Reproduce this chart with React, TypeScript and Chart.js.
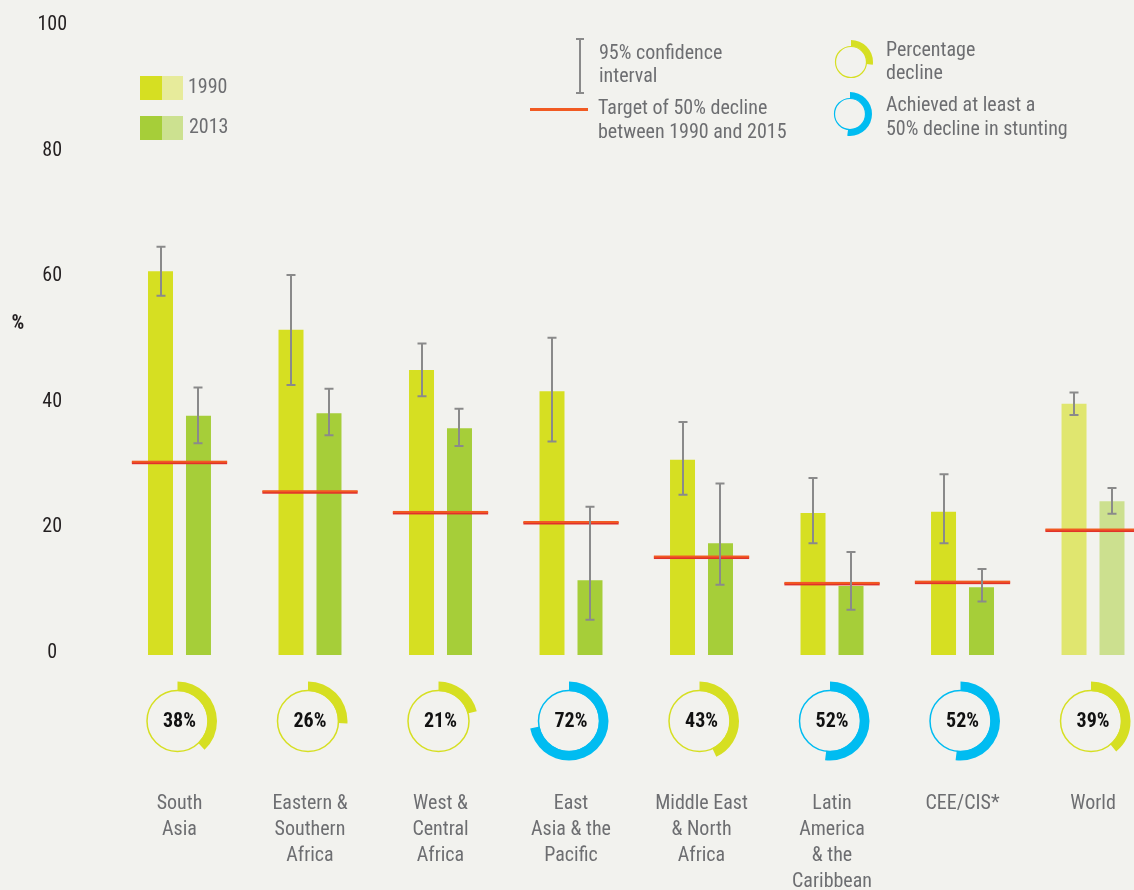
import React, { useEffect, useRef } from "react";
import { Chart, registerables } from "chart.js";

Chart.register(...registerables);

// ---------- data ----------
const categories: string[][] = [
  ["South", "Asia"],
  ["Eastern &", "Southern", "Africa"],
  ["West &", "Central", "Africa"],
  ["East", "Asia & the", "Pacific"],
  ["Middle East", "& North", "Africa"],
  ["Latin", "America", "& the", "Caribbean"],
  ["CEE/CIS*"],
  ["World"],
];
const values1990 = [61.1, 51.8, 45.4, 42.0, 31.1, 22.6, 22.8, 40.0];
const values2013 = [38.1, 38.5, 36.1, 11.9, 17.8, 11.0, 10.8, 24.5];
const ciLow1990 = [57.2, 43.0, 41.2, 34.0, 25.5, 17.8, 17.8, 38.2];
const ciHigh1990 = [65.0, 60.5, 49.6, 50.5, 37.1, 28.2, 28.8, 41.8];
const ciLow2013 = [33.7, 35.0, 33.3, 5.6, 11.2, 7.2, 8.5, 22.5];
const ciHigh2013 = [42.6, 42.4, 39.2, 23.6, 27.3, 16.4, 13.7, 26.6];
const targets = [30.7, 26.0, 22.7, 21.1, 15.6, 11.4, 11.6, 19.9];
const declines = [38, 26, 21, 72, 43, 52, 52, 39];
const yTicks = [0, 20, 40, 60, 80, 100];

// ---------- style ----------
const BG = "#f2f2ee";
const C1990 = "#d6df22";
const C2013 = "#a6ce39";
const C1990_W = "#e0e66f";
const C2013_W = "#cce08f";
const C1990_L = "#e7eb9b";
const C2013_L = "#cce190";
const BLUE = "#00bcf1";
const ORANGE = "#f15a22";
const RED = "#e0312a";
const ERR = "#8a8a8a";
const TEXT = "#6d6e71";
const FONT = "'Roboto Condensed', 'Open Sans Condensed', Roboto, sans-serif";

const X_MIN = -0.839;
const X_MAX = 7.314;

function donut(ctx: CanvasRenderingContext2D, cx: number, cy: number, pct: number, color: string, rThin: number, rIn: number, rOut: number, thinW: number) {
  ctx.save();
  ctx.strokeStyle = color;
  ctx.lineWidth = thinW;
  ctx.beginPath();
  ctx.arc(cx, cy, rThin, 0, Math.PI * 2);
  ctx.stroke();
  const s = -Math.PI / 2;
  const e = s + (Math.PI * 2 * pct) / 100;
  ctx.fillStyle = color;
  ctx.beginPath();
  ctx.arc(cx, cy, rOut, s, e);
  ctx.arc(cx, cy, rIn, e, s, true);
  ctx.closePath();
  ctx.fill();
  ctx.restore();
}

const overlay = {
  id: "overlay",
  afterDatasetsDraw(chart: any) {
    const ctx: CanvasRenderingContext2D = chart.ctx;
    const x = chart.scales.x;
    const y = chart.scales.y;
    const step = x.getPixelForValue(1) - x.getPixelForValue(0);
    ctx.save();
    // target lines
    targets.forEach((t, i) => {
      const cx = x.getPixelForValue(i);
      const half = step * 0.365;
      const py = y.getPixelForValue(t);
      ctx.fillStyle = RED;
      ctx.fillRect(cx - half, py - 0.5, half * 2, 2.5);
      ctx.fillStyle = ORANGE;
      ctx.fillRect(cx - half, py - 1.5, half * 2, 2);
    });
    // error bars
    const lows = [ciLow1990, ciLow2013];
    const highs = [ciHigh1990, ciHigh2013];
    [0, 1].forEach((d) => {
      const meta = chart.getDatasetMeta(d);
      meta.data.forEach((bar: any, i: number) => {
        const bx = Math.round(bar.x);
        const yl = y.getPixelForValue(lows[d][i]);
        const yh = y.getPixelForValue(highs[d][i]);
        ctx.strokeStyle = ERR;
        ctx.lineWidth = 2;
        ctx.beginPath();
        ctx.moveTo(bx, yh);
        ctx.lineTo(bx, yl);
        ctx.moveTo(bx - 4.5, yh);
        ctx.lineTo(bx + 4.5, yh);
        ctx.moveTo(bx - 4.5, yl);
        ctx.lineTo(bx + 4.5, yl);
        ctx.stroke();
      });
    });
    // donuts
    declines.forEach((p, i) => {
      const cx = x.getPixelForValue(i) - 2;
      const cy = 721;
      const col = p >= 50 ? BLUE : C1990;
      donut(ctx, cx, cy, p, col, 30.5, 30, 39.5, 1.5);
      ctx.fillStyle = "#111";
      ctx.font = `bold 20px ${FONT}`;
      ctx.textAlign = "center";
      ctx.textBaseline = "middle";
      ctx.fillText(`${p}%`, cx + 2, cy + 1);
    });
    ctx.restore();
  },
  afterDraw(chart: any) {
    const ctx: CanvasRenderingContext2D = chart.ctx;
    ctx.save();
    // % label
    ctx.fillStyle = "#231f20";
    ctx.font = `bold 20px ${FONT}`;
    ctx.textAlign = "center";
    ctx.textBaseline = "middle";
    ctx.fillText("%", 18, 324);
    // year swatches
    ctx.fillStyle = C1990;
    ctx.fillRect(140, 76, 22, 24);
    ctx.fillStyle = C1990_L;
    ctx.fillRect(162, 76, 21, 24);
    ctx.fillStyle = C2013;
    ctx.fillRect(140, 116, 22, 24);
    ctx.fillStyle = C2013_L;
    ctx.fillRect(162, 116, 21, 24);
    ctx.fillStyle = TEXT;
    ctx.font = `20px ${FONT}`;
    ctx.textAlign = "left";
    ctx.fillText("1990", 188, 88);
    ctx.fillText("2013", 189, 128);
    // CI icon
    ctx.strokeStyle = ERR;
    ctx.lineWidth = 2;
    ctx.beginPath();
    ctx.moveTo(580, 39);
    ctx.lineTo(580, 93);
    ctx.moveTo(576, 39);
    ctx.lineTo(584, 39);
    ctx.moveTo(576, 93);
    ctx.lineTo(584, 93);
    ctx.stroke();
    ctx.fillText("95% confidence", 599, 54);
    ctx.fillText("interval", 599, 77);
    // target icon
    ctx.fillStyle = ORANGE;
    ctx.fillRect(530, 108, 58, 3);
    ctx.fillStyle = TEXT;
    ctx.fillText("Target of 50% decline", 598, 109);
    ctx.fillText("between 1990 and 2015", 598, 133);
    // donut icons
    donut(ctx, 851, 62, 27, C1990, 15.5, 15.5, 22, 1.2);
    donut(ctx, 850, 114, 52, BLUE, 15.5, 15.5, 22, 1.2);
    ctx.fillStyle = TEXT;
    ctx.fillText("Percentage", 886, 51);
    ctx.fillText("decline", 886, 74);
    ctx.fillText("Achieved at least a", 886, 106);
    ctx.fillText("50% decline in stunting", 886, 130);
    ctx.restore();
  },
};

export default function App() {
  const ref = useRef<HTMLCanvasElement>(null);
  useEffect(() => {
    const chart = new Chart(ref.current!, {
      type: "bar",
      data: {
        datasets: [
          {
            label: "1990",
            data: values1990.map((v, i) => ({ x: i, y: v })),
            backgroundColor: values1990.map((_, i) => (i === values1990.length - 1 ? C1990_W : C1990)),
            categoryPercentage: 0.582,
            barPercentage: 0.658,
          },
          {
            label: "2013",
            data: values2013.map((v, i) => ({ x: i, y: v })),
            backgroundColor: values2013.map((_, i) => (i === values2013.length - 1 ? C2013_W : C2013)),
            categoryPercentage: 0.582,
            barPercentage: 0.658,
          },
        ],
      },
      options: {
        animation: false,
        responsive: false,
        layout: { padding: { top: 27, left: 0, right: 0, bottom: 0 } },
        plugins: { legend: { display: false }, tooltip: { enabled: false } },
        scales: {
          x: {
            type: "linear",
            min: X_MIN,
            max: X_MAX,
            offset: false,
            grid: { display: false, drawTicks: true, tickLength: 136 },
            border: { display: false },
            afterBuildTicks: (s: any) => {
              s.ticks = categories.map((_, i) => ({ value: i }));
            },
            afterFit: (s: any) => {
              s.height = 235;
            },
            ticks: {
              autoSkip: false,
              maxRotation: 0,
              minRotation: 0,
              padding: 0,
              includeBounds: false,
              color: TEXT,
              font: { family: FONT, size: 20, lineHeight: "26px" },
              callback: (v: any) => categories[v] ?? "",
            },
          },
          y: {
            min: 0,
            max: 100,
            grid: { display: false, drawTicks: false },
            border: { display: false },
            afterBuildTicks: (s: any) => {
              s.ticks = yTicks.map((v) => ({ value: v }));
            },
            afterFit: (s: any) => {
              s.width = 70;
            },
            ticks: {
              crossAlign: "center",
              padding: 3,
              labelOffset: -2,
              color: "#231f20",
              font: { family: FONT, size: 20 },
            },
          },
        },
      } as any,
      plugins: [overlay],
    });
    return () => chart.destroy();
  }, []);
  return (
    <div style={{ position: "absolute", left: 0, top: 0, width: 1134, height: 890, background: BG, overflow: "hidden" }}>
      <canvas ref={ref} width={1134} height={890} style={{ display: "block" }} />
    </div>
  );
}
